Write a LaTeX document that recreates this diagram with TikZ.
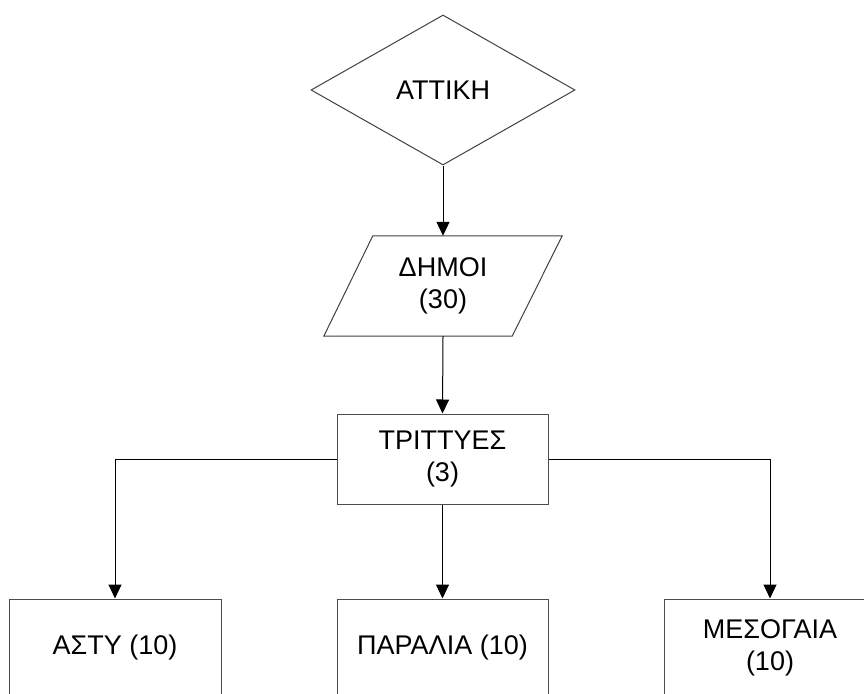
\documentclass[tikz,border=0pt]{standalone}
\usepackage{fontspec}
\setmainfont{Liberation Sans}
\usetikzlibrary{shapes.geometric,arrows.meta,calc}
\begin{document}
\begin{tikzpicture}[x=1pt,y=-1pt,
  every node/.style={font=\fontsize{27}{31.5}\selectfont, align=center, inner sep=0pt},
  boxshape/.style={draw=black!70, line width=1pt, rectangle, fill=white},
  conn/.style={line width=1pt, -{Triangle[width=13pt,length=14pt]}}]
\useasboundingbox (0,0) rectangle (864,693);
\clip (0,0) rectangle (864,693);
\node[diamond, draw=black!75, line width=1pt, minimum width=264pt, minimum height=150pt, aspect=1.76] (att) at (443,90) {ΑΤΤΙΚΗ};
\node[rectangle, minimum width=238pt, minimum height=100pt] (dim) at (443,286) {ΔΗΜΟΙ\\(30)};
\draw[draw=black!75, line width=1pt] ($(dim.north west)+(49,0)$) -- (dim.north east) -- ($(dim.south east)-(50,0)$) -- (dim.south west) -- cycle;
\node[boxshape, minimum width=211pt, minimum height=90pt] (tri) at (442.5,459) {ΤΡΙΤΤΥΕΣ\\(3)};
\node[boxshape, minimum width=212pt, minimum height=98pt] (ast) at (115,648) {ΑΣΤΥ (10)};
\node[boxshape, minimum width=211pt, minimum height=98pt] (par) at (442.5,648) {ΠΑΡΑΛΙΑ (10)};
\node[boxshape, minimum width=211pt, minimum height=98pt] (mes) at (770,648) {ΜΕΣΟΓΑΙΑ\\(10)};
\draw[conn] (att.south) -- (dim.north);
\draw[conn] (dim.south) -- (tri.north);
\draw[conn] (tri.west) -| (ast.north);
\draw[conn] (tri.south) -- (par.north);
\draw[conn] (tri.east) -| (mes.north);
\end{tikzpicture}
\end{document}
